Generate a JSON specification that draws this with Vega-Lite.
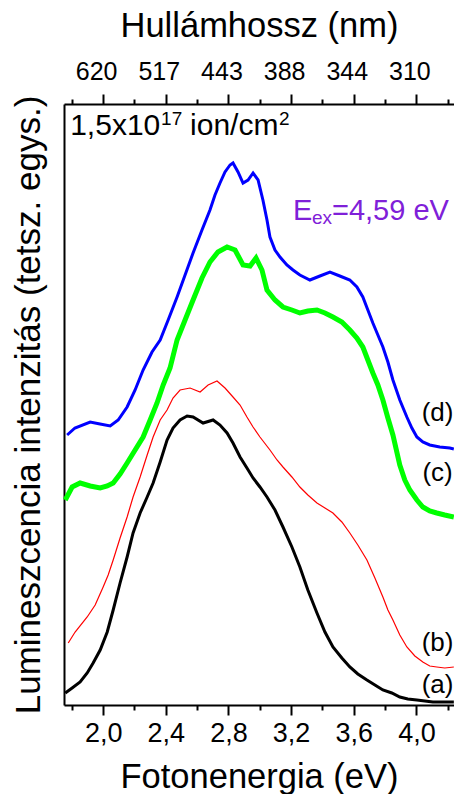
{
  "$schema": "https://vega.github.io/schema/vega-lite/v6.json",
  "width": 390,
  "height": 601,
  "autosize": "none",
  "padding": {"left": 64, "top": 104, "right": 0, "bottom": 89},
  "background": "white",
  "config": {
    "view": {"stroke": null},
    "font": "Liberation Sans",
    "axis": {
      "grid": false,
      "domainColor": "black",
      "domainWidth": 2,
      "tickColor": "black",
      "tickWidth": 2,
      "labelColor": "black",
      "titleColor": "black",
      "labelFont": "Liberation Sans",
      "titleFont": "Liberation Sans",
      "titleFontWeight": "normal"
    },
    "text": {"font": "Liberation Sans"}
  },
  "datasets": {
    "curves": [
      {"s":"d","e":1.77,"v":270},{"s":"d","e":1.82,"v":277},{"s":"d","e":1.917,"v":283},{"s":"d","e":1.98,"v":281},{"s":"d","e":2.045,"v":279},{"s":"d","e":2.096,"v":285},{"s":"d","e":2.153,"v":298},{"s":"d","e":2.204,"v":315},{"s":"d","e":2.255,"v":335},{"s":"d","e":2.312,"v":353},{"s":"d","e":2.364,"v":365},{"s":"d","e":2.415,"v":385},{"s":"d","e":2.472,"v":408},{"s":"d","e":2.523,"v":430},{"s":"d","e":2.574,"v":452},{"s":"d","e":2.631,"v":475},{"s":"d","e":2.682,"v":495},{"s":"d","e":2.714,"v":510},{"s":"d","e":2.746,"v":522},{"s":"d","e":2.778,"v":533},{"s":"d","e":2.81,"v":540},{"s":"d","e":2.829,"v":542},{"s":"d","e":2.861,"v":533},{"s":"d","e":2.893,"v":522},{"s":"d","e":2.925,"v":525},{"s":"d","e":2.957,"v":532},{"s":"d","e":2.989,"v":525},{"s":"d","e":3.02,"v":505},{"s":"d","e":3.046,"v":485},{"s":"d","e":3.065,"v":468},{"s":"d","e":3.097,"v":455},{"s":"d","e":3.129,"v":448},{"s":"d","e":3.173,"v":440},{"s":"d","e":3.212,"v":435},{"s":"d","e":3.256,"v":430},{"s":"d","e":3.32,"v":425},{"s":"d","e":3.384,"v":429},{"s":"d","e":3.448,"v":433},{"s":"d","e":3.511,"v":429},{"s":"d","e":3.575,"v":425},{"s":"d","e":3.62,"v":418},{"s":"d","e":3.658,"v":408},{"s":"d","e":3.69,"v":395},{"s":"d","e":3.722,"v":382},{"s":"d","e":3.754,"v":370},{"s":"d","e":3.786,"v":358},{"s":"d","e":3.818,"v":343},{"s":"d","e":3.85,"v":325},{"s":"d","e":3.894,"v":305},{"s":"d","e":3.939,"v":288},{"s":"d","e":3.971,"v":277},{"s":"d","e":4.003,"v":268},{"s":"d","e":4.041,"v":263},{"s":"d","e":4.085,"v":260},{"s":"d","e":4.149,"v":258},{"s":"d","e":4.213,"v":257},{"s":"d","e":4.239,"v":256},
      {"s":"c","e":1.758,"v":205},{"s":"c","e":1.802,"v":218},{"s":"c","e":1.853,"v":222},{"s":"c","e":1.917,"v":219},{"s":"c","e":1.981,"v":217},{"s":"c","e":2.026,"v":219},{"s":"c","e":2.064,"v":222},{"s":"c","e":2.108,"v":231},{"s":"c","e":2.153,"v":242},{"s":"c","e":2.204,"v":255},{"s":"c","e":2.255,"v":268},{"s":"c","e":2.3,"v":285},{"s":"c","e":2.344,"v":302},{"s":"c","e":2.383,"v":320},{"s":"c","e":2.427,"v":337},{"s":"c","e":2.472,"v":365},{"s":"c","e":2.523,"v":385},{"s":"c","e":2.574,"v":405},{"s":"c","e":2.631,"v":427},{"s":"c","e":2.682,"v":443},{"s":"c","e":2.733,"v":453},{"s":"c","e":2.791,"v":458},{"s":"c","e":2.842,"v":455},{"s":"c","e":2.893,"v":440},{"s":"c","e":2.938,"v":439},{"s":"c","e":2.976,"v":447},{"s":"c","e":3.014,"v":435},{"s":"c","e":3.046,"v":415},{"s":"c","e":3.097,"v":405},{"s":"c","e":3.148,"v":398},{"s":"c","e":3.205,"v":395},{"s":"c","e":3.256,"v":392},{"s":"c","e":3.307,"v":394},{"s":"c","e":3.365,"v":395},{"s":"c","e":3.416,"v":392},{"s":"c","e":3.467,"v":388},{"s":"c","e":3.524,"v":383},{"s":"c","e":3.575,"v":375},{"s":"c","e":3.62,"v":367},{"s":"c","e":3.658,"v":358},{"s":"c","e":3.69,"v":345},{"s":"c","e":3.722,"v":332},{"s":"c","e":3.754,"v":320},{"s":"c","e":3.786,"v":305},{"s":"c","e":3.818,"v":287},{"s":"c","e":3.85,"v":270},{"s":"c","e":3.894,"v":240},{"s":"c","e":3.926,"v":225},{"s":"c","e":3.958,"v":215},{"s":"c","e":4.003,"v":205},{"s":"c","e":4.041,"v":198},{"s":"c","e":4.085,"v":194},{"s":"c","e":4.13,"v":192},{"s":"c","e":4.181,"v":190},{"s":"c","e":4.239,"v":188},
      {"s":"b","e":1.777,"v":62},{"s":"b","e":1.821,"v":73},{"s":"b","e":1.898,"v":88},{"s":"b","e":1.949,"v":100},{"s":"b","e":2.0,"v":118},{"s":"b","e":2.032,"v":130},{"s":"b","e":2.064,"v":145},{"s":"b","e":2.108,"v":167},{"s":"b","e":2.153,"v":188},{"s":"b","e":2.191,"v":208},{"s":"b","e":2.236,"v":228},{"s":"b","e":2.281,"v":250},{"s":"b","e":2.319,"v":268},{"s":"b","e":2.364,"v":285},{"s":"b","e":2.408,"v":295},{"s":"b","e":2.446,"v":307},{"s":"b","e":2.491,"v":315},{"s":"b","e":2.555,"v":317},{"s":"b","e":2.619,"v":313},{"s":"b","e":2.67,"v":320},{"s":"b","e":2.727,"v":324},{"s":"b","e":2.778,"v":317},{"s":"b","e":2.829,"v":308},{"s":"b","e":2.874,"v":300},{"s":"b","e":2.918,"v":288},{"s":"b","e":2.957,"v":278},{"s":"b","e":3.001,"v":268},{"s":"b","e":3.065,"v":255},{"s":"b","e":3.11,"v":245},{"s":"b","e":3.148,"v":238},{"s":"b","e":3.205,"v":228},{"s":"b","e":3.256,"v":218},{"s":"b","e":3.307,"v":210},{"s":"b","e":3.365,"v":202},{"s":"b","e":3.416,"v":197},{"s":"b","e":3.467,"v":192},{"s":"b","e":3.524,"v":183},{"s":"b","e":3.575,"v":172},{"s":"b","e":3.626,"v":160},{"s":"b","e":3.684,"v":145},{"s":"b","e":3.735,"v":127},{"s":"b","e":3.786,"v":108},{"s":"b","e":3.818,"v":95},{"s":"b","e":3.85,"v":85},{"s":"b","e":3.894,"v":70},{"s":"b","e":3.939,"v":58},{"s":"b","e":3.99,"v":49},{"s":"b","e":4.041,"v":43},{"s":"b","e":4.085,"v":39},{"s":"b","e":4.13,"v":38},{"s":"b","e":4.181,"v":37},{"s":"b","e":4.239,"v":38},
      {"s":"a","e":1.758,"v":12},{"s":"a","e":1.802,"v":17},{"s":"a","e":1.853,"v":23},{"s":"a","e":1.898,"v":32},{"s":"a","e":1.936,"v":42},{"s":"a","e":1.981,"v":55},{"s":"a","e":2.026,"v":73},{"s":"a","e":2.064,"v":95},{"s":"a","e":2.108,"v":122},{"s":"a","e":2.153,"v":148},{"s":"a","e":2.191,"v":172},{"s":"a","e":2.236,"v":192},{"s":"a","e":2.281,"v":208},{"s":"a","e":2.319,"v":222},{"s":"a","e":2.364,"v":243},{"s":"a","e":2.408,"v":265},{"s":"a","e":2.446,"v":277},{"s":"a","e":2.491,"v":285},{"s":"a","e":2.536,"v":289},{"s":"a","e":2.574,"v":288},{"s":"a","e":2.638,"v":282},{"s":"a","e":2.702,"v":285},{"s":"a","e":2.746,"v":280},{"s":"a","e":2.791,"v":272},{"s":"a","e":2.829,"v":262},{"s":"a","e":2.874,"v":248},{"s":"a","e":2.918,"v":237},{"s":"a","e":2.957,"v":227},{"s":"a","e":3.001,"v":218},{"s":"a","e":3.046,"v":208},{"s":"a","e":3.097,"v":195},{"s":"a","e":3.148,"v":178},{"s":"a","e":3.205,"v":158},{"s":"a","e":3.256,"v":138},{"s":"a","e":3.307,"v":115},{"s":"a","e":3.365,"v":92},{"s":"a","e":3.416,"v":73},{"s":"a","e":3.467,"v":58},{"s":"a","e":3.524,"v":47},{"s":"a","e":3.575,"v":38},{"s":"a","e":3.626,"v":31},{"s":"a","e":3.684,"v":25},{"s":"a","e":3.735,"v":20},{"s":"a","e":3.786,"v":15},{"s":"a","e":3.843,"v":12},{"s":"a","e":3.894,"v":8},{"s":"a","e":3.945,"v":6},{"s":"a","e":4.003,"v":5},{"s":"a","e":4.054,"v":4},{"s":"a","e":4.105,"v":3},{"s":"a","e":4.168,"v":3},{"s":"a","e":4.239,"v":3}
    ],
    "labels": [
      {"e":4.135,"v":20,"t":"(a)"},
      {"e":4.135,"v":62,"t":"(b)"},
      {"e":4.135,"v":232,"t":"(c)"},
      {"e":4.135,"v":292,"t":"(d)"}
    ],
    "flmain": [{"e":1.7895,"v":570,"t":"1,5x10"},{"e":2.555,"v":570,"t":"ion/cm"}],
    "flsup": [{"e":2.37,"v":580,"t":"17"},{"e":3.122,"v":580,"t":"2"}],
    "exbig": [{"e":3.212,"v":485,"t":"E"},{"e":3.461,"v":485,"t":"=4,59 eV"}],
    "exsub": [{"e":3.333,"v":481,"t":"ex"}]
  },
  "layer": [
    {
      "data": {"name": "curves"},
      "mark": {"type": "line", "interpolate": "linear"},
      "encoding": {
        "x": {
          "field": "e", "type": "quantitative",
          "scale": {"domain": [1.75, 4.24], "nice": false, "zero": false},
          "axis": {
            "orient": "bottom",
            "values": [1.8, 2.0, 2.2, 2.4, 2.6, 2.8, 3.0, 3.2, 3.4, 3.6, 3.8, 4.0, 4.2],
            "tickSize": {"condition": {"test": "round(datum.value*10)%4==0", "value": 10}, "value": 5},
            "labelExpr": "round(datum.value*10)%4==0 ? replace(format(datum.value,'.1f'),'.',',') : ''",
            "labelFontSize": 27,
            "labelPadding": 5,
            "labelFlush": false,
            "labelOverlap": false,
            "title": "Fotonenergia (eV)",
            "titleFontSize": 34.5,
            "titlePadding": 14
          }
        },
        "y": {
          "field": "v", "type": "quantitative",
          "scale": {"domain": [0, 601], "nice": false, "zero": false},
          "axis": {
            "orient": "left",
            "domain": true,
            "ticks": false,
            "labels": false,
            "title": "Lumineszcencia intenzitás (tetsz. egys.)",
            "titleFontSize": 35,
            "titlePadding": 18,
            "titleLimit": 700
          }
        },
        "color": {
          "field": "s", "type": "nominal",
          "scale": {"domain": ["a", "b", "c", "d"], "range": ["#000000", "#ff0000", "#00ff00", "#0000ff"]},
          "legend": null
        },
        "strokeWidth": {
          "condition": [
            {"test": "datum.s == 'c'", "value": 5},
            {"test": "datum.s == 'b'", "value": 1.2},
            {"test": "datum.s == 'a'", "value": 3}
          ],
          "value": 3
        }
      }
    },
    {
      "data": {"name": "labels"},
      "mark": {"type": "text", "fontSize": 26, "color": "black", "align": "center", "baseline": "middle"},
      "encoding": {
        "x": {
          "field": "e", "type": "quantitative",
          "axis": {
            "orient": "top",
            "values": [1.8, 2.0, 2.2, 2.4, 2.6, 2.8, 3.0, 3.2, 3.4, 3.6, 3.8, 4.0, 4.2],
            "tickSize": {"condition": {"test": "round(datum.value*10)%4==0", "value": 10}, "value": 5},
            "labelExpr": "round(datum.value*10)%4==0 ? format(1240/datum.value,'.0f') : ''",
            "labelFontSize": 25,
            "labelPadding": 10,
            "labelOffset": -7,
            "labelFlush": false,
            "labelOverlap": false,
            "title": "Hullámhossz (nm)",
            "titleFontSize": 34.5,
            "titlePadding": 16
          }
        },
        "y": {"field": "v", "type": "quantitative"},
        "text": {"field": "t"}
      }
    },
    {
      "data": {"name": "flmain"},
      "mark": {"type": "text", "fontSize": 30, "color": "black", "align": "left", "baseline": "alphabetic"},
      "encoding": {
        "x": {"field": "e", "type": "quantitative", "axis": null},
        "y": {"field": "v", "type": "quantitative"},
        "text": {"field": "t"}
      }
    },
    {
      "data": {"name": "flsup"},
      "mark": {"type": "text", "fontSize": 19, "color": "black", "align": "left", "baseline": "alphabetic"},
      "encoding": {
        "x": {"field": "e", "type": "quantitative", "axis": null},
        "y": {"field": "v", "type": "quantitative"},
        "text": {"field": "t"}
      }
    },
    {
      "data": {"name": "exbig"},
      "mark": {"type": "text", "fontSize": 29, "color": "#7f20d8", "align": "left", "baseline": "alphabetic"},
      "encoding": {
        "x": {"field": "e", "type": "quantitative", "axis": null},
        "y": {"field": "v", "type": "quantitative"},
        "text": {"field": "t"}
      }
    },
    {
      "data": {"name": "exsub"},
      "mark": {"type": "text", "fontSize": 19, "color": "#7f20d8", "align": "left", "baseline": "alphabetic"},
      "encoding": {
        "x": {"field": "e", "type": "quantitative", "axis": null},
        "y": {"field": "v", "type": "quantitative"},
        "text": {"field": "t"}
      }
    }
  ],
  "resolve": {"axis": {"x": "independent", "y": "shared"}}
}
